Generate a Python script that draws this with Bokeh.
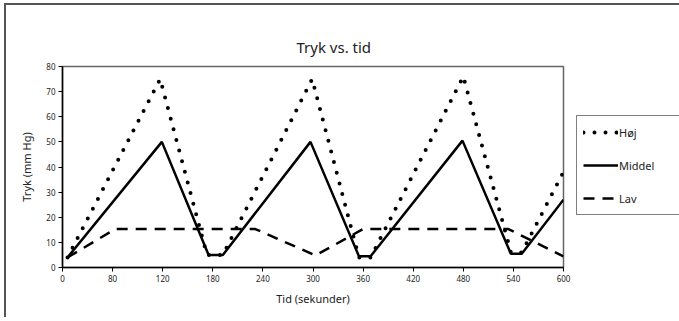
from bokeh.plotting import figure
from bokeh.models import Range1d, FixedTicker, Legend, LegendItem, Title
from bokeh.embed import file_html
from bokeh.resources import INLINE

# ---- data ----
t_hoj = [6, 117, 173, 192, 299, 355, 369, 480, 537, 550, 600]
hoj = [4, 75, 5, 5, 75, 4, 4, 76, 6, 6, 38]

t_middel = [6, 119, 175, 192, 297, 355, 369, 479, 537, 550, 600]
middel = [4, 50, 5, 5, 50, 4.5, 4.5, 50.5, 5.5, 5.5, 27]

t_lav = [6, 63, 231, 303, 360, 534, 600]
lav = [4, 15.3, 15.3, 4.8, 15.3, 15.3, 4.4]

x_ticks = [0, 60, 120, 180, 240, 300, 360, 420, 480, 540, 600]
x_tick_labels = ["0", "80", "120", "180", "240", "300", "360", "420", "480", "540", "600"]
y_ticks = [0, 10, 20, 30, 40, 50, 60, 70, 80]

series_names = ["Høj", "Middel", "Lav"]
chart_title = "Tryk vs. tid"

FONT = "Noto Sans"

p = figure(frame_width=501, frame_height=201, output_backend="svg", toolbar_location=None,
           x_range=Range1d(0, 600), y_range=Range1d(0, 80),
           min_border_left=56, min_border_right=116, min_border_top=59, min_border_bottom=50,
           styles={"border-top": "2px solid #555555", "border-left": "2px solid #555555",
                   "margin-left": "4px", "margin-top": "3px"})

p.grid.visible = False
p.outline_line_color = "#666666"
p.outline_line_width = 1.5
p.background_fill_color = "white"
p.border_fill_color = "white"

# axes
p.xaxis.ticker = FixedTicker(ticks=x_ticks)
p.xaxis.major_label_overrides = {t: l for t, l in zip(x_ticks, x_tick_labels)}
p.yaxis.ticker = FixedTicker(ticks=y_ticks)
for ax in (p.xaxis, p.yaxis):
    ax.axis_line_color = "black"
    ax.axis_line_width = 1.5
    ax.major_tick_line_color = "black"
    ax.major_tick_line_width = 1
    ax.major_tick_out = 4
    ax.major_tick_in = 0
    ax.minor_tick_line_color = None
    ax.major_label_text_font = FONT
    ax.major_label_text_font_size = "8px"
    ax.major_label_text_color = "#222222"
    ax.axis_label_text_font = FONT
    ax.axis_label_text_font_size = "11px"
    ax.axis_label_text_font_style = "normal"
    ax.axis_label_text_color = "#222222"
p.xaxis.axis_label = "Tid (sekunder)"
p.yaxis.axis_label = "Tryk (mm Hg)"
p.xaxis.major_label_standoff = 3
p.yaxis.major_label_standoff = 3
p.xaxis.axis_label_standoff = 6
p.yaxis.axis_label_standoff = 9

# title, with bottom padding so that it sits near the top of the chart
title = Title(text=chart_title, align="left", offset=234, vertical_align="top",
              text_font=FONT, text_font_size="15px", text_font_style="normal",
              text_color="#222222", standoff=16, padding=(0, 0, 23, 0))
p.add_layout(title, "above")

# lines
r_hoj = p.line(t_hoj, hoj, line_color="black", line_width=4, line_dash="0 11", line_cap="round")
r_mid = p.line(t_middel, middel, line_color="black", line_width=2.5)
r_lav = p.line(t_lav, lav, line_color="black", line_width=2.5, line_dash="11 8")

legend = Legend(items=[LegendItem(label=series_names[0], renderers=[r_hoj]),
                       LegendItem(label=series_names[1], renderers=[r_mid]),
                       LegendItem(label=series_names[2], renderers=[r_lav])],
                location=(13, 52), orientation="vertical")
legend.border_line_color = "black"
legend.border_line_width = 1
legend.background_fill_alpha = 1
legend.glyph_width = 35
legend.glyph_height = 20
legend.label_height = 20
legend.label_standoff = 1
legend.spacing = 13
legend.padding = 6
legend.margin = 0
legend.label_text_font = FONT
legend.label_text_font_size = "11px"
legend.label_text_color = "#222222"
legend.label_width = 55
p.add_layout(legend, "right")

open("out.html", "w").write(file_html(p, INLINE))
